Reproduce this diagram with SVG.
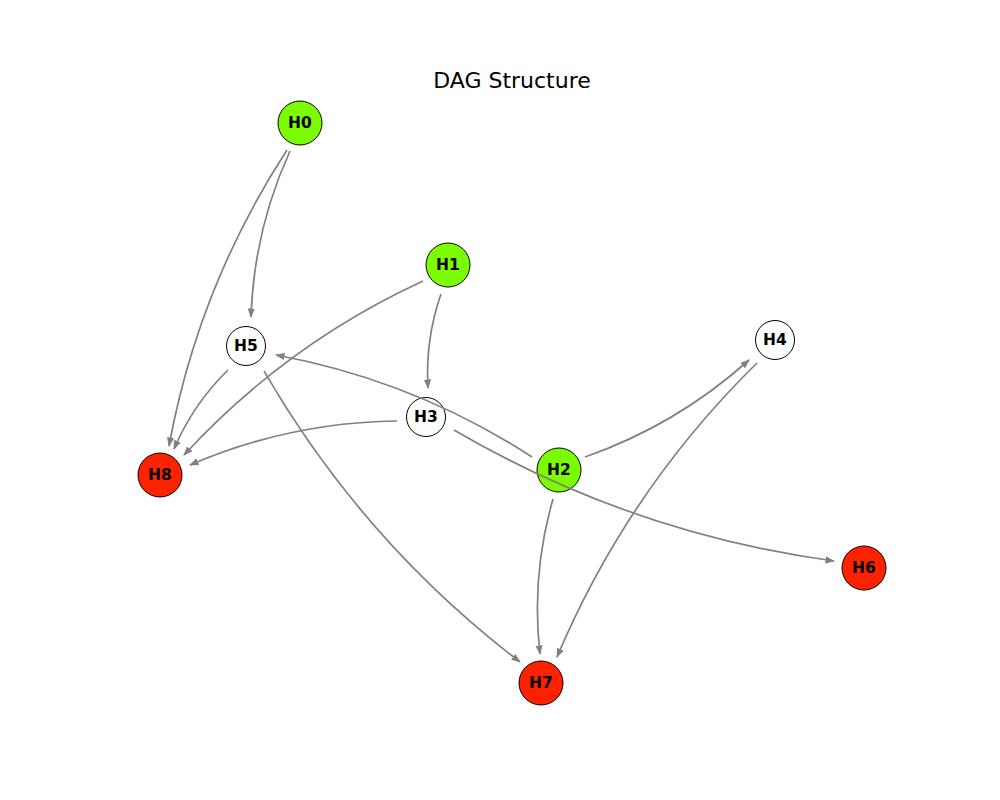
<svg xmlns="http://www.w3.org/2000/svg" width="1000" height="800" viewBox="0 0 1000 800">
<defs>
<style>
.title{font-family:"DejaVu Sans","Liberation Sans",sans-serif;font-size:22px;fill:#000;text-anchor:middle}
.lbl{font-family:"DejaVu Sans","Liberation Sans",sans-serif;font-size:15.5px;font-weight:bold;fill:#000;text-anchor:middle;dominant-baseline:central}
.src{fill:#7CFC00;stroke:#000;stroke-width:1}
.mid{fill:#fff;stroke:#000;stroke-width:1}
.snk{fill:#FF2200;stroke:#000;stroke-width:1}
.e{fill:none;stroke:#808080;stroke-width:1.7;marker-end:url(#arr)}
</style>
<marker id="arr" markerUnits="userSpaceOnUse" markerWidth="11" markerHeight="8" refX="8.5" refY="3.6" orient="auto">
<path d="M0,0 L9.5,3.6 L0,7.2 z" fill="#808080"/>
</marker>
</defs>
<rect width="1000" height="800" fill="#fff"/>
<text class="title" x="512" y="88">DAG Structure</text>
<g id="nodes">
<g id="H0"><circle class="src" cx="300" cy="123" r="22"/><text class="lbl" x="300" y="123">H0</text></g>
<g id="H1"><circle class="src" cx="448" cy="265" r="22"/><text class="lbl" x="448" y="265">H1</text></g>
<g id="H2"><circle class="src" cx="559" cy="470" r="22"/><text class="lbl" x="559" y="470">H2</text></g>
<g id="H3"><circle class="mid" cx="426" cy="417" r="19.5"/><text class="lbl" x="426" y="417">H3</text></g>
<g id="H4"><circle class="mid" cx="775" cy="340" r="19.5"/><text class="lbl" x="775" y="340">H4</text></g>
<g id="H5"><circle class="mid" cx="246" cy="346" r="19.5"/><text class="lbl" x="246" y="346">H5</text></g>
<g id="H6"><circle class="snk" cx="864" cy="568" r="22"/><text class="lbl" x="864" y="568">H6</text></g>
<g id="H7"><circle class="snk" cx="541" cy="683" r="22"/><text class="lbl" x="541" y="683">H7</text></g>
<g id="H8"><circle class="snk" cx="160" cy="475" r="22"/><text class="lbl" x="160" y="475">H8</text></g>
</g>
<g id="edges">
<path class="e" d="M290,151 Q253.9,230.1 251,317"/>
<path class="e" d="M287,150 Q198.4,286.2 169,446"/>
<path class="e" d="M441,294 Q425.1,339.7 428,388"/>
<path class="e" d="M423,281 Q286.1,344.1 184,455"/>
<path class="e" d="M228,370 Q193.1,404.1 174,449"/>
<path class="e" d="M264,371 Q362.9,542.1 520,662"/>
<path class="e" d="M397,421 Q289.1,422.3 190,465"/>
<path class="e" d="M532,457 Q414.2,380.4 276,355"/>
<path class="e" d="M454,430 Q630.9,533.5 834,561"/>
<path class="e" d="M585,457 Q676.7,424.9 749,360"/>
<path class="e" d="M553,499 Q531,575.2 540,654"/>
<path class="e" d="M757,363 Q627.6,490 557,657"/>
</g>
</svg>
